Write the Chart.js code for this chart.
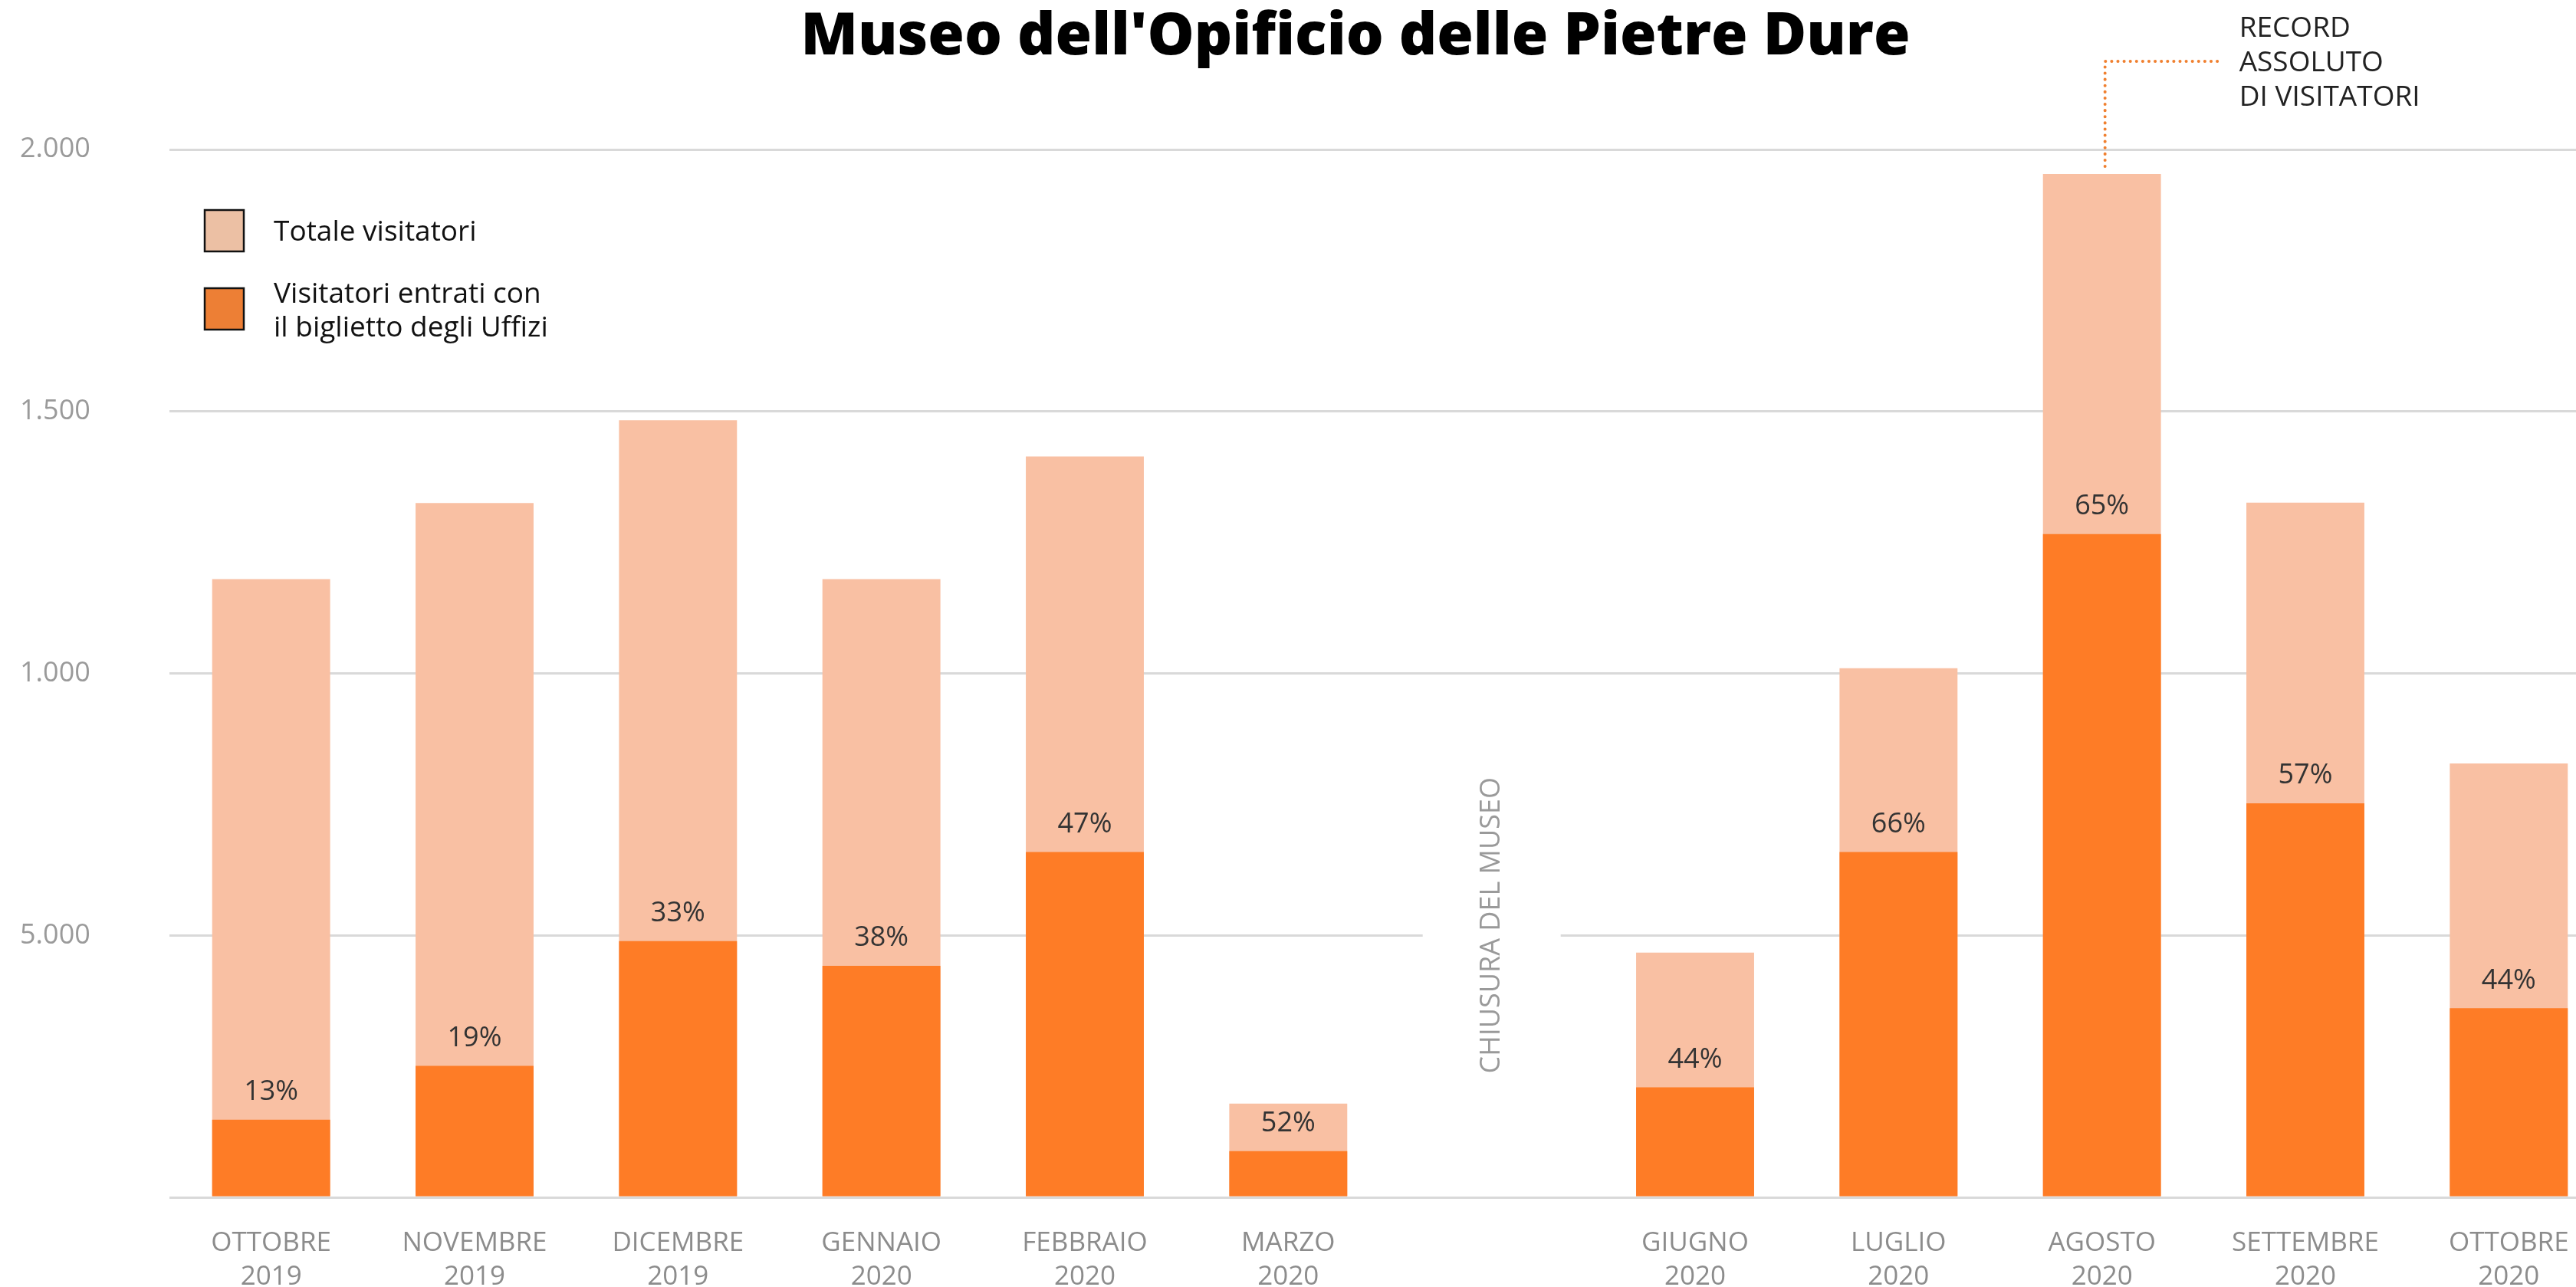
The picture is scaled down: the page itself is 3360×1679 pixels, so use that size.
<!DOCTYPE html>
<html lang="it">
<head>
<meta charset="utf-8">
<title>Museo dell'Opificio delle Pietre Dure</title>
<script src="https://cdn.jsdelivr.net/npm/chart.js@4.4.1/dist/chart.umd.min.js"></script>
<style>
  html, body { margin: 0; padding: 0; background: #fff; overflow: hidden; }
  #contenitore { width: 3536px; height: 1720px; }
</style>
</head>
<body>
<div id="contenitore"><canvas id="grafico" width="3536" height="1720"></canvas></div>
<script>
// dati (aprile/maggio: museo chiuso, slot vuoto)
const mesi = ['OTTOBRE', 'NOVEMBRE', 'DICEMBRE', 'GENNAIO', 'FEBBRAIO', 'MARZO', '', 'GIUGNO', 'LUGLIO', 'AGOSTO', 'SETTEMBRE', 'OTTOBRE'];
const anni = ['2019', '2019', '2019', '2020', '2020', '2020', '', '2020', '2020', '2020', '2020', '2020'];
const totaleVisitatori = [11800, 13250, 14830, 11800, 14140, 1790, null, 4670, 10100, 19530, 13260, 8280];
const visitatoriUffizi = [1480, 2510, 4890, 4420, 6590, 880, null, 2100, 6590, 12660, 7520, 3610];
const percentuali = [13, 19, 33, 38, 47, 52, null, 44, 66, 65, 57, 44];
const tickValori = [5000, 10000, 15000, 20000];
const tickEtichette = ['5.000', '1.000', '1.500', '2.000'];
const indiceChiusura = 6;
const indiceRecord = 9;

const ARANCIO = '#fe7c26';
const PESCA = '#f9c0a3';
const FONT = "'Open Sans', 'Noto Sans', sans-serif";

const etichette = mesi.map((m, i) => (m ? [m, anni[i]] : ''));

// titolo, legenda, percentuali, nota "record" e chiusura del museo
const decorazioni = {
    id: 'decorazioni',
    beforeDatasetsDraw(chart) {
        const { ctx, scales: { x, y } } = chart;
        const cx = x.getPixelForValue(indiceChiusura);
        const gy = y.getPixelForValue(5000);
        ctx.save();
        ctx.fillStyle = '#fff';
        ctx.fillRect(cx - 90, gy - 6, 180, 12);
        ctx.translate(cx, gy - 13);
        ctx.rotate(-Math.PI / 2);
        ctx.fillStyle = '#9a9a9a';
        ctx.font = `36px ${FONT}`;
        ctx.textAlign = 'center';
        ctx.textBaseline = 'middle';
        ctx.fillText('CHIUSURA DEL MUSEO', 0, 0);
        ctx.restore();
    },
    afterDatasetsDraw(chart) {
        const { ctx, scales: { x, y } } = chart;
        ctx.save();
        ctx.fillStyle = '#333';
        ctx.font = `36px ${FONT}`;
        ctx.textAlign = 'center';
        ctx.textBaseline = 'middle';
        percentuali.forEach((p, i) => {
            if (p == null) return;
            ctx.fillText(p + '%', x.getPixelForValue(i), y.getPixelForValue(visitatoriUffizi[i]) - 36);
        });
        ctx.restore();
    },
    afterDraw(chart) {
        const { ctx, chartArea, scales: { x, y } } = chart;
        ctx.save();

        // titolo
        ctx.fillStyle = '#000';
        ctx.font = `800 77px ${FONT}`;
        ctx.textAlign = 'center';
        ctx.textBaseline = 'alphabetic';
        ctx.fillText("Museo dell'Opificio delle Pietre Dure", chart.width / 2, 71);

        // legenda
        const voci = [chart.data.datasets[1], chart.data.datasets[0]];
        const coloriLegenda = ['#ecc0a4', '#ed7f35'];
        let top = 274;
        ctx.font = `37px ${FONT}`;
        ctx.textAlign = 'left';
        ctx.textBaseline = 'middle';
        voci.forEach((ds, k) => {
            const bx = chartArea.left + 46;
            ctx.fillStyle = coloriLegenda[k];
            ctx.fillRect(bx, top, 51, 54);
            ctx.strokeStyle = '#111';
            ctx.lineWidth = 2.5;
            ctx.strokeRect(bx, top, 51, 54);
            ctx.fillStyle = '#111';
            const righe = ds.label.split('\n');
            righe.forEach((r, j) => {
                const ty = righe.length === 1 ? top + 29 : top + 8 + j * 44;
                ctx.fillText(r, bx + 90, ty);
            });
            top += 102;
        });

        // nota record assoluto
        const rx = x.getPixelForValue(indiceRecord);
        const ry = y.getPixelForValue(totaleVisitatori[indiceRecord]);
        ctx.strokeStyle = '#f08030';
        ctx.lineWidth = 4;
        ctx.lineCap = 'round';
        ctx.setLineDash([0.1, 8]);
        ctx.beginPath();
        ctx.moveTo(rx + 4, ry - 10);
        ctx.lineTo(rx + 4, 80);
        ctx.lineTo(rx + 155, 80);
        ctx.stroke();
        ctx.setLineDash([]);
        ctx.fillStyle = '#222';
        ctx.font = `37px ${FONT}`;
        ['RECORD', 'ASSOLUTO', 'DI VISITATORI'].forEach((r, j) => {
            ctx.fillText(r, rx + 179, 37 + j * 45);
        });
        ctx.restore();
    }
};

new Chart(document.getElementById('grafico').getContext('2d'), {
    type: 'bar',
    data: {
        labels: etichette,
        datasets: [
            {
                label: 'Visitatori entrati con\nil biglietto degli Uffizi',
                data: visitatoriUffizi,
                backgroundColor: ARANCIO,
                grouped: false,
                order: 0
            },
            {
                label: 'Totale visitatori',
                data: totaleVisitatori,
                backgroundColor: PESCA,
                grouped: false,
                order: 1
            }
        ]
    },
    options: {
        responsive: false,
        animation: false,
        categoryPercentage: 0.58,
        barPercentage: 1,
        layout: { padding: { top: 195, left: 26, right: 131, bottom: 0 } },
        plugins: {
            legend: { display: false },
            title: { display: false },
            tooltip: { enabled: false }
        },
        scales: {
            x: {
                grid: { display: false, drawTicks: false },
                border: { display: false },
                ticks: {
                    color: '#8c8c8c',
                    font: { family: FONT, size: 35, lineHeight: 1.25 },
                    padding: 38,
                    maxRotation: 0,
                    autoSkip: false
                },
                afterFit: s => { s.height = 158; }
            },
            y: {
                min: 0,
                max: 20000,
                border: { display: false },
                grid: { color: '#d9d9d9', lineWidth: 3, drawTicks: false },
                ticks: {
                    stepSize: 5000,
                    crossAlign: 'far',
                    color: '#9a9a9a',
                    font: { family: FONT, size: 36 },
                    callback: v => {
                        const i = tickValori.indexOf(v);
                        return i >= 0 ? tickEtichette[i] : '';
                    }
                },
                afterFit: s => { s.width = 195; }
            }
        }
    },
    plugins: [decorazioni]
});
</script>
</body>
</html>
